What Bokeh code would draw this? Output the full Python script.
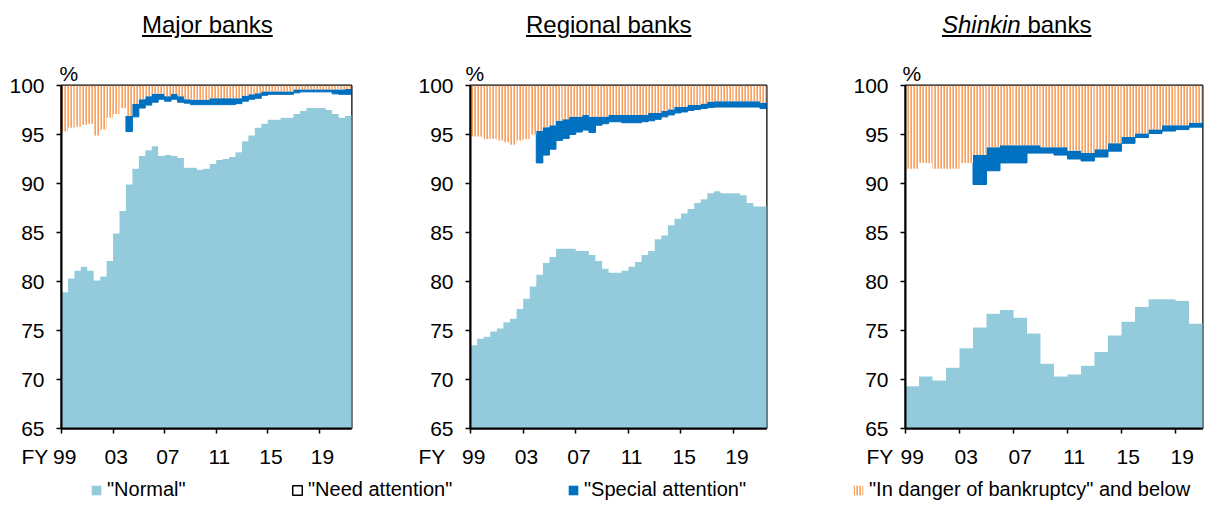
import numpy as np
from bokeh.plotting import figure
from bokeh.models import (Range1d, FixedTicker, Title, Legend, LegendItem,
                          ColumnDataSource, Div)
from bokeh.layouts import column, row
from bokeh.embed import file_html
from bokeh.resources import INLINE

# ---------------- data (shares of loans, %) ----------------
# Major & regional banks: semi-annual from FY1999 H1 (45 observations)
# Shinkin banks: annual from FY1999 (22 observations)
FY_LABELS = ["99", "03", "07", "11", "15", "19"]
FY_LABEL_YEARS = [0, 4, 8, 12, 16, 20]   # years after FY1999

major_normal = [78.9, 80.3, 81.1, 81.5, 81.1, 80.1, 80.5, 82.1, 84.9, 87.2,
                89.9, 91.5, 92.8, 93.4, 93.8, 92.8, 92.9, 92.8, 92.6, 91.6,
                91.6, 91.4, 91.5, 92.0, 92.4, 92.5, 92.7, 93.2, 94.3, 94.9,
                95.7, 96.1, 96.5, 96.5, 96.7, 96.7, 97.1, 97.4, 97.7, 97.7,
                97.7, 97.5, 97.1, 96.7, 96.9]
major_special = [None] * 10 + [
                1.6, 1.3, 0.9, 0.9, 0.85, 0.55, 0.5, 0.55, 0.6, 0.4,
                0.5, 0.5, 0.5, 0.65, 0.65, 0.65, 0.65, 0.55, 0.55, 0.5,
                0.5, 0.4, 0.3, 0.3, 0.3, 0.3, 0.35, 0.25, 0.25, 0.25,
                0.25, 0.25, 0.45, 0.5, 0.55]
major_danger = [4.7, 4.3, 4.2, 4.0, 3.9, 5.1, 4.5, 3.3, 2.9, 2.3,
                3.1, 1.9, 1.4, 1.1, 0.85, 0.85, 1.1, 0.85, 1.1, 1.4,
                1.45, 1.45, 1.45, 1.3, 1.3, 1.3, 1.3, 1.3, 1.05, 0.9,
                0.8, 0.6, 0.6, 0.6, 0.6, 0.6, 0.4, 0.4, 0.4, 0.4,
                0.4, 0.4, 0.4, 0.4, 0.35]

regional_normal = [73.5, 74.15, 74.35, 74.9, 75.2, 75.85, 76.2, 77.2, 78.25, 79.5,
                   80.7, 81.9, 82.5, 83.35, 83.35, 83.35, 83.1, 83.1, 82.7, 82.1,
                   81.3, 80.9, 80.9, 81.1, 81.5, 82.0, 82.7, 83.1, 84.3, 84.7,
                   85.75, 86.4, 86.95, 87.4, 88.0, 88.4, 89.0, 89.2, 89.0, 89.0,
                   89.0, 88.8, 88.0, 87.65, 87.65]
regional_special = [None] * 10 + [
                   3.25, 2.85, 2.45, 2.0, 1.95, 1.8, 1.55, 1.55, 1.6, 0.85,
                   0.7, 0.7, 0.7, 0.8, 0.8, 0.8, 0.7, 0.8, 0.65, 0.6,
                   0.55, 0.6, 0.5, 0.55, 0.45, 0.5, 0.6, 0.6, 0.6, 0.6,
                   0.6, 0.6, 0.6, 0.6, 0.6]
regional_danger = [5.2, 5.2, 5.45, 5.45, 5.6, 5.8, 6.05, 5.6, 5.45, 5.0,
                   4.65, 4.25, 4.05, 3.6, 3.45, 3.2, 3.2, 3.0, 3.2, 3.2,
                   3.2, 3.0, 3.0, 3.0, 3.0, 3.0, 3.0, 2.8, 2.8, 2.6,
                   2.45, 2.2, 2.2, 2.0, 2.0, 1.85, 1.65, 1.6, 1.6, 1.6,
                   1.6, 1.6, 1.6, 1.6, 1.75]

shinkin_normal = [69.3, 70.3, 69.9, 71.2, 73.2, 75.3, 76.7, 77.1, 76.3, 74.7,
                  71.6, 70.3, 70.5, 71.4, 72.8, 74.5, 75.9, 77.4, 78.2, 78.2,
                  78.0, 75.7]
shinkin_special = [None] * 5 + [
                  3.0, 2.4, 1.8, 1.8, 0.8, 0.6, 0.8, 0.85, 0.8, 0.8,
                  0.8, 0.65, 0.4, 0.4, 0.6, 0.45, 0.45]
shinkin_danger = [8.5, 7.9, 8.5, 8.5, 7.9, 7.1, 6.3, 6.1, 6.1, 6.1,
                  6.3, 6.3, 6.65, 6.9, 6.5, 5.9, 5.25, 4.9, 4.5, 4.05,
                  4.05, 3.8]

# ---------------- style ----------------
C_NORMAL = "#93CBDC"
C_SPECIAL = "#0070C0"
C_DANGER = "#F7A060"
FONT = "Liberation Sans"
HATCH = dict(hatch_pattern="vertical_line", hatch_color=C_DANGER,
             hatch_scale=3, hatch_weight=2.3)


def make_panel(normal, special, danger, step, left_b, right_b, frame_w,
               pct_dx, fy_dx):
    n = len(normal)
    nrm = np.array(normal, dtype=float)
    spc = np.array([np.nan if v is None else v for v in special], dtype=float)
    dng = np.array(danger, dtype=float)
    need = 100.0 - nrm - np.nan_to_num(spc) - dng
    x = np.arange(n) * step + step / 2.0
    top_need = nrm + need
    top_spc = top_need + spc
    src = ColumnDataSource(dict(x=x, nrm=nrm, top_need=top_need,
                                top_spc=top_spc, bot_dng=100.0 - dng,
                                hundred=np.full(n, 100.0), zero=np.zeros(n)))
    p = figure(frame_width=frame_w, frame_height=343,
               min_border_left=left_b, min_border_right=right_b,
               min_border_top=35, min_border_bottom=49,
               x_range=Range1d(0, n * step), y_range=Range1d(65, 100),
               toolbar_location=None, output_backend="svg")
    p.vbar(x="x", width=step, bottom="zero", top="nrm", source=src,
           fill_color=C_NORMAL, line_color=C_NORMAL, line_width=1)
    p.vbar(x="x", width=step, bottom="nrm", top="top_need", source=src,
           fill_color="white", line_color=None)
    p.vbar(x="x", width=step, bottom="top_need", top="top_spc", source=src,
           fill_color=C_SPECIAL, line_color=C_SPECIAL, line_width=1)
    p.vbar(x="x", width=step, bottom="bot_dng", top="hundred", source=src,
           fill_color="white", line_color=None, **HATCH)

    p.grid.visible = False
    p.outline_line_color = "black"
    p.outline_line_width = 2
    for ax in (p.xaxis[0], p.yaxis[0]):
        ax.axis_line_color = "black"
        ax.axis_line_width = 2
        ax.major_label_text_font = FONT
        ax.major_label_text_font_size = "21px"
        ax.major_label_text_color = "black"
    # y axis
    p.yaxis.ticker = FixedTicker(ticks=list(range(65, 101, 5)), minor_ticks=[])
    p.yaxis.major_tick_out = 5
    p.yaxis.major_tick_in = 0
    p.yaxis.major_tick_line_color = "black"
    p.yaxis.major_tick_line_width = 1.5
    p.yaxis.major_label_standoff = 12
    # x axis: labels centred on the first bar of each labelled year,
    # tick marks at year boundaries
    lab_pos = [y + step / 2.0 for y in FY_LABEL_YEARS]
    p.xaxis.ticker = FixedTicker(ticks=lab_pos, minor_ticks=list(FY_LABEL_YEARS))
    p.xaxis.major_label_overrides = {pos: lab for pos, lab in zip(lab_pos, FY_LABELS)}
    p.xaxis.major_tick_line_color = None
    p.xaxis.major_tick_out = 5
    p.xaxis.major_tick_in = 0
    p.xaxis.minor_tick_out = 5
    p.xaxis.minor_tick_in = 0
    p.xaxis.minor_tick_line_color = "black"
    p.xaxis.minor_tick_line_width = 1.5
    p.xaxis.major_label_standoff = 16

    # "%" unit label above the frame
    p.title.text = "%"
    p.title.align = "left"
    p.title.offset = pct_dx
    p.title.standoff = 2
    p.title.text_font = FONT
    p.title.text_font_size = "21px"
    p.title.text_font_style = "normal"
    p.title.text_color = "black"
    # "FY" prefix left of the first x tick label
    p.add_layout(Title(text="FY", align="left", offset=fy_dx,
                       vertical_align="top", standoff=-44,
                       text_font=FONT, text_font_size="21px",
                       text_font_style="normal", text_color="black"), "below")
    return p


p1 = make_panel(major_normal, major_special, major_danger, 0.5,
                61, 20, 290, -2, -40)
p2 = make_panel(regional_normal, regional_special, regional_danger, 0.5,
                99, 20, 296, -5, -52)
p3 = make_panel(shinkin_normal, shinkin_special, shinkin_danger, 1.0,
                119, 5, 297, -3, -39)

# ---------------- titles ----------------
span = ('<span style="position:absolute;left:{left}px;top:3px;'
        'text-decoration:underline;white-space:nowrap">{t}</span>')
titles_html = (
    '<div style="position:relative;width:1207px;height:40px;'
    "font-family:'Liberation Sans',Arial,sans-serif;font-size:24px;color:#000\">"
    + span.format(left=137, t="Major banks")
    + span.format(left=521, t="Regional banks")
    + span.format(left=937, t="<i>Shinkin</i> banks")
    + "</div>")
titles = Div(text=titles_html, width=1207, height=40)

# ---------------- legend ----------------
lg = figure(width=1207, height=24, x_range=Range1d(0, 1), y_range=Range1d(0, 1),
            x_axis_location=None, y_axis_location=None, min_border=0,
            toolbar_location=None, output_backend="svg")
lg.grid.visible = False
lg.outline_line_color = None
lg.title.text = ""


def key_renderer(**kw):
    # legend key only: a single swatch outside the visible range
    src = ColumnDataSource(dict(x=[-5.0], top=[-5.0]))
    return lg.vbar(x="x", top="top", width=0.1, source=src, **kw)


r_n = key_renderer(fill_color=C_NORMAL, line_color=None)
r_a = key_renderer(fill_color="white", line_color="black", line_width=1.5)
r_s = key_renderer(fill_color=C_SPECIAL, line_color=None)
r_d = key_renderer(fill_color="white", line_color=None, **HATCH)

for lab, r, xpos in [('"Normal"', r_n, 90), ('"Need attention"', r_a, 291),
                     ('"Special attention"', r_s, 567),
                     ('"In danger of bankruptcy" and below', r_d, 852)]:
    lg.add_layout(Legend(items=[LegendItem(label=lab, renderers=[r])],
                         location=(xpos, 0), orientation="horizontal",
                         padding=0, margin=0, border_line_color=None,
                         background_fill_alpha=0, glyph_width=12,
                         glyph_height=12, label_standoff=5,
                         label_text_font=FONT, label_text_font_size="20px",
                         label_text_color="black", label_height=22))

layout = column(titles, row(p1, p2, p3), lg)
open("out.html", "w").write(file_html(layout, INLINE))
